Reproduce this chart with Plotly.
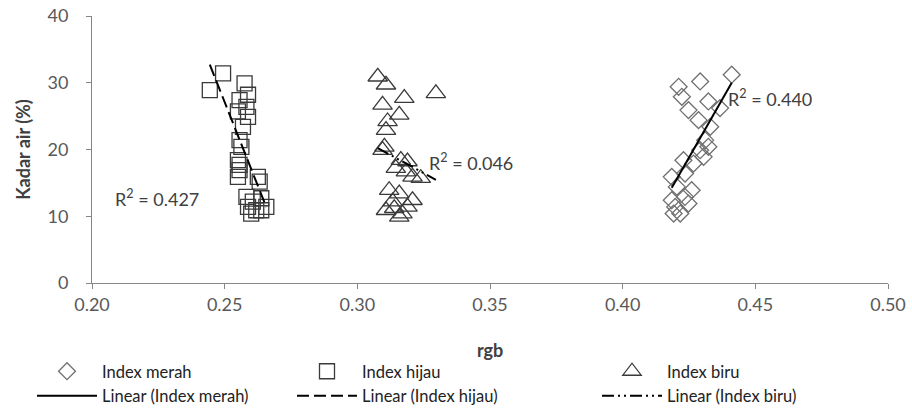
import numpy as np
import plotly.graph_objects as go

# --- data ---
merah_x = [0.4411, 0.4292, 0.4211, 0.4223, 0.4248, 0.4323, 0.4367, 0.4286, 0.4330, 0.4311,
           0.4323, 0.4292, 0.4305, 0.4229, 0.4267, 0.4185, 0.4235, 0.4204, 0.4260, 0.4185,
           0.4235, 0.4198, 0.4217, 0.4248, 0.4192]
merah_y = [31.2, 30.2, 29.4, 27.9, 25.9, 27.2, 26.2, 24.4, 23.4, 21.4,
           20.4, 19.9, 18.9, 18.4, 17.9, 15.9, 16.4, 14.4, 13.9, 12.4,
           12.9, 11.4, 10.4, 11.9, 10.4]

hijau_x = [0.2494, 0.2444, 0.2575, 0.2588, 0.2556, 0.2582, 0.2550, 0.2588, 0.2569, 0.2556,
           0.2563, 0.2550, 0.2556, 0.2556, 0.2550, 0.2625, 0.2632, 0.2582, 0.2606, 0.2638,
           0.2657, 0.2588, 0.2619, 0.2600, 0.2638]
hijau_y = [31.4, 28.9, 29.9, 28.2, 27.4, 26.4, 25.7, 24.9, 23.4, 21.4,
           20.4, 18.4, 17.7, 16.9, 15.9, 15.9, 15.2, 12.9, 12.2, 12.7,
           11.4, 11.4, 10.9, 10.4, 10.9]

biru_x = [0.3077, 0.3108, 0.3177, 0.3296, 0.3095, 0.3158, 0.3114, 0.3108, 0.3102, 0.3095,
          0.3164, 0.3189, 0.3145, 0.3183, 0.3239, 0.3208, 0.3120, 0.3158, 0.3208, 0.3108,
          0.3139, 0.3170, 0.3158, 0.3189, 0.3133]
biru_y = [30.9, 29.7, 27.7, 28.4, 26.7, 25.2, 24.2, 22.9, 20.4, 19.9,
          18.4, 18.2, 17.2, 16.7, 15.7, 15.9, 13.9, 13.4, 12.4, 10.9,
          11.2, 10.4, 9.9, 11.4, 12.2]

r2_labels = ["R<sup>2</sup> = 0.440", "R<sup>2</sup> = 0.427", "R<sup>2</sup> = 0.046"]
r2_pos_x = [0.4391, 0.2079, 0.3263]
r2_pos_y = [27.7, 12.7, 18.1]

x_ticks = [0.20, 0.25, 0.30, 0.35, 0.40, 0.45, 0.50]
y_ticks = [0, 10, 20, 30, 40]

FONT = "Lato"
TXT = "#404040"
AX = "#868686"

W, H = 912, 413
ML, MR, MT, MB = 92, 24, 16, 130
PW, PH = W - ML - MR, H - MT - MB

fig = go.Figure()

series = [
    ("Index merah", merah_x, merah_y, "diamond-open", 13, "#707070", "legend"),
    ("Index hijau", hijau_x, hijau_y, "square-open", 15, "#3a3a3a", "legend2"),
    ("Index biru", biru_x, biru_y, "triangle-up-open", 17, "#3a3a3a", "legend3"),
]
for name, xs, ys, sym, size, col, lg in series:
    fig.add_trace(go.Scatter(
        x=xs, y=ys, mode="markers", name=name, legend=lg,
        marker=dict(symbol=sym, size=size, color=col, line=dict(width=1.3, color=col)),
    ))

dashes = ["solid", "12px,5px", "12px,4px,2px,4px,2px,4px"]
for (name, xs, ys, _s, _z, _c, lg), dash in zip(series, dashes):
    m, b = np.polyfit(xs, ys, 1)
    lx = np.array([min(xs), max(xs)])
    fig.add_trace(go.Scatter(
        x=lx, y=m * lx + b, mode="lines", name=f"Linear ({name})", legend=lg,
        line=dict(color="black", width=2, dash=dash),
    ))

for t, ax_, ay_ in zip(r2_labels, r2_pos_x, r2_pos_y):
    fig.add_annotation(x=ax_, y=ay_, text=t, showarrow=False, xanchor="left",
                       yanchor="middle", font=dict(family=FONT, size=18, color=TXT))

# x-axis title placed as paper text (keeps the margins fixed)
fig.add_annotation(x=0.5, y=-(350 - (MT + PH)) / PH, xref="paper", yref="paper",
                   text="<b>rgb</b>", showarrow=False, xanchor="center", yanchor="middle",
                   font=dict(family=FONT, size=18, color=TXT))

def leg(xpx):
    return dict(orientation="v", xref="paper", yref="container",
                x=(xpx - ML) / PW, xanchor="left",
                y=0.0, yanchor="bottom",
                itemwidth=60, tracegroupgap=0, bgcolor="rgba(0,0,0,0)",
                font=dict(family=FONT, size=16.5, color="#222222"))

fig.update_layout(
    width=W, height=H,
    margin=dict(l=ML, r=MR, t=MT, b=MB),
    paper_bgcolor="white", plot_bgcolor="white",
    font=dict(family=FONT, size=17, color=TXT),
    showlegend=True,
    legend=leg(32), legend2=leg(292), legend3=leg(597),
)
fig.update_xaxes(
    range=[0.20, 0.50], tickvals=x_ticks, ticktext=[f"{v:.2f}" for v in x_ticks],
    showgrid=False, zeroline=False, showline=True, linecolor=AX, linewidth=1,
    ticks="outside", ticklen=5, tickcolor=AX,
    tickfont=dict(family=FONT, size=18, color="#595959"),
    automargin=False,
)
fig.update_yaxes(
    range=[0, 40], tickvals=y_ticks, ticklabelstandoff=14,
    showgrid=False, zeroline=False, showline=True, linecolor=AX, linewidth=1,
    ticks="outside", ticklen=5, tickcolor=AX,
    tickfont=dict(family=FONT, size=18, color="#595959"),
    title=dict(text="<b>Kadar air (%)</b>", font=dict(family=FONT, size=18, color=TXT), standoff=12),
    automargin=False,
)

fig.write_html("out.html", config={"displayModeBar": False},
               post_script="document.body.style.margin='0';")
